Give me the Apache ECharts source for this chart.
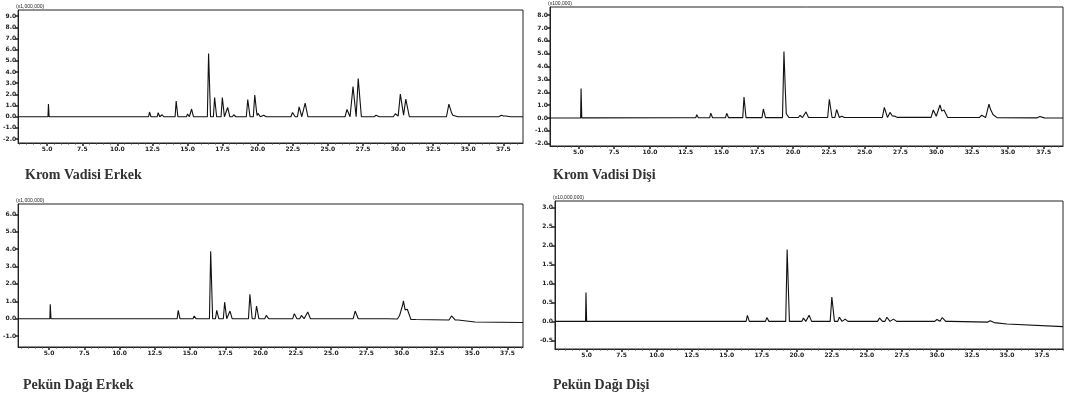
<!DOCTYPE html>
<html>
<head>
<meta charset="utf-8">
<script src="https://cdn.jsdelivr.net/npm/echarts@6/dist/echarts.min.js"></script>
<style>
html,body{margin:0;padding:0;background:#fff;}
#main{width:1065px;height:394px;}
</style>
</head>
<body>
<div id="main"></div>
<script>
// Krom Vadisi Erkek - peaks (retention time, min / height)
var kveTimes   = [5.09, 12.29, 12.91, 13.19, 14.19, 15.0, 15.29, 16.5, 16.93, 17.48, 17.86, 18.29, 19.29, 19.79, 20.02, 20.43, 20.93, 21.43, 22.48, 22.95, 23.38, 26.36, 26.79, 27.16, 28.43, 29.81, 30.16, 30.55, 33.62, 33.98, 37.36, 37.71];
var kveHeights = [1.13, 0.42, 0.36, 0.18, 1.40, 0.24, 0.69, 5.65, 1.72, 1.72, 0.83, 0.18, 1.54, 1.94, 0.30, 0.13, 0.10, 0.10, 0.38, 0.89, 1.22, 0.65, 2.71, 3.42, 0.13, 0.27, 2.03, 1.58, 1.13, 0.27, 0.13, 0.09];
var kveBase    = [[2.93, 0], [38.9, 0]];

// Krom Vadisi Dişi
var kvdTimes   = [5.19, 12.38, 13.27, 14.25, 15.36, 16.57, 16.99, 17.92, 19.36, 19.55, 20.0, 20.48, 20.9, 22.53, 23.04, 23.39, 24.67, 26.37, 26.77, 27.07, 29.79, 30.26, 30.54, 33.17, 33.68, 33.96, 37.24];
var kvdHeights = [2.28, 0.13, 0.23, 0.36, 0.34, 1.60, 0.05, 0.67, 5.13, 0.40, 0.10, 0.18, 0.44, 1.42, 0.62, 0.10, 0.05, 0.78, 0.39, 0.10, 0.57, 0.96, 0.57, 0.18, 1.04, 0.25, 0.10];
var kvdBase    = [[3.02, 0], [30, 0.05], [38.85, 0.0]];

// Pekün Dağı Erkek
var pdeTimes   = [5.09, 12.27, 12.91, 14.16, 15.29, 16.46, 16.89, 17.45, 17.83, 19.24, 19.71, 20.4, 22.39, 22.89, 23.34, 26.7, 29.85, 30.12, 30.4, 33.53];
var pdeHeights = [0.83, 0.10, 0.08, 0.48, 0.15, 3.88, 0.48, 0.95, 0.44, 1.41, 0.73, 0.19, 0.29, 0.19, 0.39, 0.44, 0.20, 1.06, 0.58, 0.23];
var pdeBase    = [[2.81, 0], [29, 0], [31, -0.05], [34, -0.08], [35.2, -0.19], [38.6, -0.22]];

// Pekün Dağı Dişi
var pddTimes   = [4.95, 16.47, 17.86, 19.31, 20.47, 20.88, 22.5, 23.04, 23.45, 25.9, 26.43, 26.9, 30.0, 30.38, 33.81];
var pddHeights = [0.76, 0.16, 0.10, 1.90, 0.09, 0.16, 0.64, 0.11, 0.06, 0.09, 0.11, 0.06, 0.05, 0.10, 0.04];
var pddBase    = [[2.74, 0], [31, 0], [33.8, -0.02], [35, -0.07], [39, -0.14]];

// axis ticks
var xMajor = [5, 7.5, 10, 12.5, 15, 17.5, 20, 22.5, 25, 27.5, 30, 32.5, 35, 37.5];
var yTicksKve = [-2, -1, 0, 1, 2, 3, 4, 5, 6, 7, 8, 9];
var yTicksKvd = [-2, -1, 0, 1, 2, 3, 4, 5, 6, 7, 8];
var yTicksPde = [-1, 0, 1, 2, 3, 4, 5, 6];
var yTicksPdd = [-0.5, 0, 0.5, 1, 1.5, 2, 2.5, 3];

var titles = ['Krom Vadisi Erkek', 'Krom Vadisi Dişi', 'Pekün Dağı Erkek', 'Pekün Dağı Dişi'];

// minor ticks every 0.5 min
var xMinor = [];
for (var m = 3; m <= 39; m += 0.5) xMinor.push(m);

function baseAt(base, x) {
    for (var i = 1; i < base.length; i++) {
        if (x <= base[i][0]) {
            var a = base[i - 1], b = base[i];
            return a[1] + (b[1] - a[1]) * (x - a[0]) / (b[0] - a[0]);
        }
    }
    return base[base.length - 1][1];
}

// turn a peak list into a trace: each peak is a narrow tailing spike on the baseline
function buildTrace(times, heights, base) {
    var xs = [];
    base.forEach(function (p) { xs.push(p[0]); });
    var peaks = times.map(function (t, i) {
        var wl = 0.03 + 0.005 * (t - 5);
        return { t: t, h: heights[i], wl: wl, wr: wl * 1.6 };
    });
    peaks.forEach(function (p) { xs.push(p.t - p.wl, p.t, p.t + p.wr); });
    xs.sort(function (a, b) { return a - b; });
    var data = [];
    xs.forEach(function (x) {
        var y = baseAt(base, x);
        peaks.forEach(function (p) {
            if (x > p.t - p.wl && x <= p.t) y += p.h * (x - (p.t - p.wl)) / p.wl;
            else if (x > p.t && x < p.t + p.wr) y += p.h * ((p.t + p.wr) - x) / p.wr;
        });
        data.push([x, y]);
    });
    return data;
}

var panels = [
    { times: kveTimes, heights: kveHeights, base: kveBase, yt: yTicksKve, ymin: -2.35, ymax: 9.55, xmin: 2.93, xmax: 38.9,
      grid: { left: 18, right: 542, top: 10, bottom: 251 }, title: { left: 25, top: 168 }, unit: '(x1,000,000)' },
    { times: kvdTimes, heights: kvdHeights, base: kvdBase, yt: yTicksKvd, ymin: -2.18, ymax: 8.63, xmin: 3.02, xmax: 38.85,
      grid: { left: 550, right: 2, top: 7, bottom: 248 }, title: { left: 553, top: 168 }, unit: '(x100,000)' },
    { times: pdeTimes, heights: pdeHeights, base: pdeBase, yt: yTicksPde, ymin: -1.63, ymax: 6.6, xmin: 2.81, xmax: 38.6,
      grid: { left: 15, right: 542, top: 204, bottom: 47 }, title: { left: 23, top: 378 }, unit: '(x1,000,000)' },
    { times: pddTimes, heights: pddHeights, base: pddBase, yt: yTicksPdd, ymin: -0.73, ymax: 3.18, xmin: 2.74, xmax: 39.0,
      grid: { left: 555, right: 2, top: 201, bottom: 45 }, title: { left: 553, top: 378 }, unit: '(x10,000,000)' }
];

var grids = [], xAxes = [], yAxes = [], series = [], titleList = [];
var lblStyle = { fontSize: 6, fontWeight: 'bold', color: '#222', fontFamily: 'DejaVu Sans' };

panels.forEach(function (p, i) {
    grids.push({
        left: p.grid.left, right: p.grid.right, top: p.grid.top, bottom: p.grid.bottom,
        show: true, borderColor: '#222', borderWidth: 1, backgroundColor: '#fff'
    });
    xAxes.push({
        type: 'value', gridIndex: i, min: p.xmin, max: p.xmax, position: 'bottom',
        axisLine: { show: true, onZero: false, lineStyle: { color: '#222', width: 1 } },
        axisTick: { show: true, inside: false, length: 3, customValues: xMajor, lineStyle: { color: '#222', width: 1.5 } },
        axisLabel: Object.assign({ customValues: xMajor, margin: 3, formatter: function (v) { return v.toFixed(1); } }, lblStyle),
        splitLine: { show: false }
    });
    xAxes.push({
        type: 'value', gridIndex: i, min: p.xmin, max: p.xmax, position: 'bottom', offset: 0,
        axisLine: { show: false, onZero: false },
        axisTick: { show: true, length: 1.5, customValues: xMinor, lineStyle: { color: '#444', width: 1 } },
        axisLabel: { show: false },
        splitLine: { show: false }
    });
    yAxes.push({
        type: 'value', gridIndex: i, min: p.ymin, max: p.ymax,
        name: p.unit, nameLocation: 'end', nameGap: 1,
        nameTextStyle: { fontSize: 5, color: '#222', align: 'left', verticalAlign: 'bottom', padding: [0, 0, 0, -2] },
        axisLine: { show: true, onZero: false, lineStyle: { color: '#222', width: 1 } },
        axisTick: { show: true, length: 3, customValues: p.yt, lineStyle: { color: '#222', width: 1.5 } },
        axisLabel: Object.assign({ customValues: p.yt, margin: 2, formatter: function (v) { return v.toFixed(1); } }, lblStyle),
        splitLine: { show: false }
    });
    series.push({
        type: 'line', xAxisIndex: i * 2, yAxisIndex: i,
        data: buildTrace(p.times, p.heights, p.base),
        showSymbol: false, symbol: 'none', sampling: null,
        lineStyle: { color: '#111', width: 1.1 },
        silent: true
    });
    titleList.push({
        text: titles[i], left: p.title.left, top: p.title.top, padding: 0,
        textStyle: { fontFamily: 'Liberation Serif', fontWeight: 'bold', fontSize: 14, color: '#333' }
    });
});

var myChart = echarts.init(document.getElementById('main'));
myChart.setOption({
    animation: false,
    backgroundColor: '#fff',
    title: titleList,
    grid: grids,
    xAxis: xAxes,
    yAxis: yAxes,
    series: series
});
</script>
</body>
</html>
